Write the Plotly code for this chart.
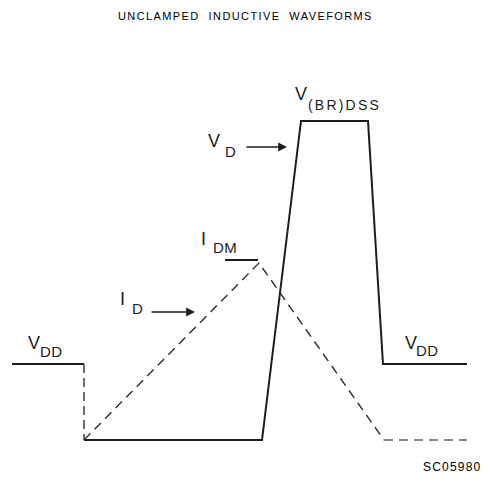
import plotly.graph_objects as go

W, H = 488, 477

# ---- data (time axis in arbitrary units, level axis in arbitrary units; 0 = bottom level)
vd_time = [12, 84, 84, 262, 301, 368, 383, 467]
vd_level = [76, 76, 0, 0, 319, 319, 76, 76]

id_time = [84, 259, 384, 467]
id_level = [0, 177, 0, 0]

idm_time = [225, 258]
idm_level = [180, 180]

title_text = "UNCLAMPED  INDUCTIVE  WAVEFORMS"
code_text = "SC05980"

FONT = "Liberation Sans"
INK = "#1c1c1c"

fig = go.Figure()

def seg(xs, ys, dash=None, color=INK, width=2.0):
    fig.add_trace(go.Scatter(
        x=xs, y=ys, mode="lines", hoverinfo="skip", showlegend=False,
        line=dict(color=color, width=width, dash=dash if dash else "solid"),
    ))

# V_D waveform: solid VDD, dashed drop, solid remainder
seg(vd_time[0:2], vd_level[0:2])
seg(vd_time[1:3], vd_level[1:3], dash="9px,5px", color="#333333", width=1.4)
seg(vd_time[2:], vd_level[2:])

# I_D waveform (dashed)
seg(id_time[0:3], id_level[0:3], dash="9px,6px", color="#2e2e2e", width=1.4)
seg(id_time[2:4], id_level[2:4], dash="9px,6px", color="#8a8a8a", width=1.8)

# I_DM marker
seg(idm_time, idm_level, width=2.0)

def P(x, y):
    return x / W, 1 - y / H

def label(text, x, y, size, xanchor="center", spacing=None, color=INK):
    px, py = P(x, y)
    if spacing is not None:
        text = f"<span style='letter-spacing:{spacing}px'>{text}</span>"
    fig.add_annotation(
        x=px, y=py, xref="paper", yref="paper", text=text, showarrow=False,
        xanchor=xanchor, yanchor="middle",
        font=dict(family=FONT, size=size, color=color),
    )

# Title
label(title_text, 245, 16, 11, spacing=1.4, color="#000000")

# V_DD left
label("V", 34, 343, 18)
label("DD", 51, 351, 15, spacing=0.5)
# V_DD right
label("V", 411, 343, 18)
label("DD", 427, 350, 15, spacing=0.5)
# V_D
label("V", 213.5, 141, 18)
label("D", 230, 151.5, 15)
# V(BR)DSS
label("V", 301, 94, 18)
label("(BR)DSS", 306, 104.5, 14, xanchor="left", spacing=2.2)
# I_DM
label("I", 203.5, 238.5, 18)
label("DM", 225, 247.5, 15, spacing=0.5)
# I_D
label("I", 122.5, 298.5, 18)
label("D", 137, 308.5, 15)
# code
label(code_text, 452, 466.5, 12, spacing=1.2, color="#000000")

def arrow(x0, x1, y):
    hx, hy = P(x1, y)
    fig.add_annotation(
        x=hx, y=hy, xref="paper", yref="paper", text="", showarrow=True,
        ax=x0 - x1, ay=0, axref="pixel", ayref="pixel",
        arrowhead=2, arrowsize=1.1, arrowwidth=1.6, arrowcolor=INK,
    )

arrow(245, 287, 147)
arrow(150, 195, 312)

fig.update_layout(
    width=W, height=H,
    margin=dict(l=0, r=0, t=0, b=0),
    paper_bgcolor="white", plot_bgcolor="white",
    xaxis=dict(range=[0, W], visible=False, fixedrange=True),
    yaxis=dict(range=[440 - H, 440], visible=False, fixedrange=True),
)

fig.write_html(
    "out.html",
    config={"displayModeBar": False},
    post_script="document.body.style.margin='0';document.body.style.padding='0';document.body.style.overflow='hidden';",
)
